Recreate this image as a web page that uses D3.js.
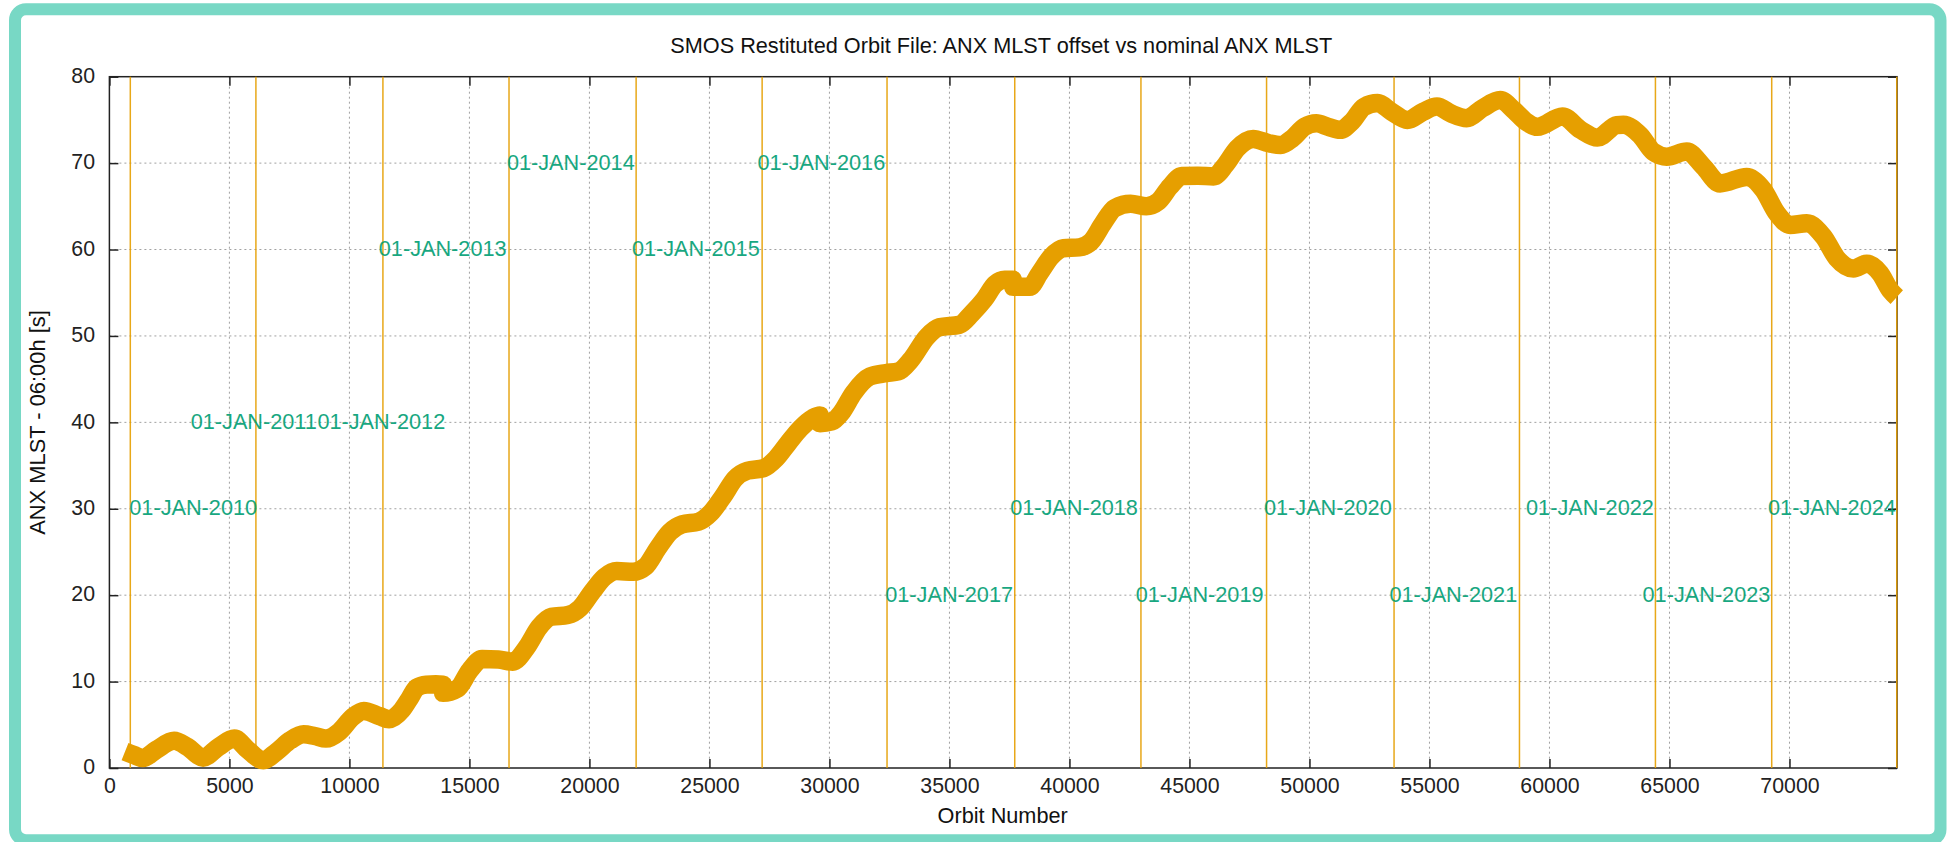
<!DOCTYPE html>
<html><head><meta charset="utf-8">
<script src="https://cdn.jsdelivr.net/npm/d3@7"></script>
<style>
body{margin:0;background:#fff;}
svg{display:block;}
text{font-family:"Liberation Sans",Arial,Helvetica,sans-serif;}
</style>
</head><body>
<svg id="chart" width="1947" height="842"></svg>
<script>
// ---------- data ----------
const orbits = [650,1021,1396,1952,2696,3254,3904,4556,5208,5767,6417,6975,7533,8092,8550,9021,9579,10138,10600,11254,11650,12183,12500,12804,13204,13600,13890,13900,14508,15017,15525,16208,16804,17396,17908,18417,19100,19608,20117,20629,21138,21817,22329,22842,23350,23858,24542,25050,25563,26071,26579,27263,27771,28283,28792,29304,29600,29610,30100,30492,31004,31683,32363,32875,33383,34063,34575,35425,35933,36446,36900,37300,37640,37660,38346,38754,39250,39746,40404,40896,41392,41888,42546,43204,43700,44192,44688,45346,46004,46500,46992,47654,48313,48804,49300,49796,50288,50783,51275,51771,52267,52842,53421,54079,54738,55313,55892,56550,57208,57950,58525,59021,59500,60540,61300,62000,62808,63079,63775,64329,64888,65721,66413,67108,68221,68913,69471,70025,70721,71413,71971,72663,73221,73775,74192,74470];
const offsets = [1.9,1.5,1.15,2.1,3.15,2.45,1.2,2.45,3.4,2.1,0.9,1.9,3.2,3.9,3.7,3.4,4.2,5.9,6.6,6.0,5.65,6.7,8.0,9.3,9.65,9.7,9.65,8.7,9.2,11.3,12.6,12.55,12.3,14.0,16.3,17.5,17.7,18.5,20.4,22.1,22.8,22.7,23.3,25.4,27.3,28.2,28.5,29.5,31.4,33.5,34.4,34.7,35.8,37.6,39.3,40.5,40.8,39.9,40.1,41.1,43.4,45.3,45.7,45.9,47.2,49.9,51.0,51.3,52.6,54.2,56.0,56.5,56.5,55.7,55.7,57.25,59.2,60.15,60.25,60.9,63.0,64.8,65.3,65.0,65.55,67.3,68.5,68.55,68.45,69.8,71.7,72.8,72.3,72.1,72.9,74.2,74.6,74.2,73.85,74.8,76.5,76.95,75.95,75.0,75.95,76.55,75.75,75.2,76.35,77.3,76.1,74.8,74.2,75.4,73.85,72.95,74.4,74.45,73.25,71.3,70.75,71.35,69.6,67.65,68.4,66.9,64.2,62.85,63.05,61.5,59.0,57.8,58.35,57.25,55.3,54.5];

const yearLineOrbits = [871,6104,11396,16650,21946,27196,32400,37721,42979,48213,53525,58750,64415,69260,74470];

const labelTexts  = ["01-JAN-2010","01-JAN-2011","01-JAN-2012","01-JAN-2013","01-JAN-2014","01-JAN-2015","01-JAN-2016","01-JAN-2017","01-JAN-2018","01-JAN-2019","01-JAN-2020","01-JAN-2021","01-JAN-2022","01-JAN-2023","01-JAN-2024"];
const labelOrbits = [829,3388,8667,11225,16563,21771,27000,32325,37529,42763,48104,53333,59025,63879,69108];
const labelValues = [30,40,40,60,70,60,70,20,30,20,30,20,30,20,30];

const xTickValues = [0,5000,10000,15000,20000,25000,30000,35000,40000,45000,50000,55000,60000,65000,70000];
const yTickValues = [0,10,20,30,40,50,60,70,80];

const titleText = "SMOS Restituted Orbit File: ANX MLST offset vs nominal ANX MLST";
const xLabelText = "Orbit Number";
const yLabelText = "ANX MLST - 06:00h [s]";

// ---------- layout ----------
const plot = {left:109.4, right:1897, top:76.7, bottom:768};
const ORANGE = "#e69f00", GREEN = "#009e73";

const svg = d3.select("#chart");

// outer teal frame
svg.append("rect").attr("x",15).attr("y",9.2).attr("width",1925.5).attr("height",831)
  .attr("rx",11).attr("ry",11)
  .attr("fill","#fff").attr("stroke","#78d8c5").attr("stroke-width",12);

const x = d3.scaleLinear().domain([0,74480]).range([plot.left, plot.right]);
const y = d3.scaleLinear().domain([0,80]).range([plot.bottom, plot.top]);

// grid
const grid = svg.append("g").attr("stroke","#a0a0a0").attr("stroke-width",1)
  .attr("stroke-dasharray","2,3").attr("fill","none");
grid.selectAll("line.gx").data(xTickValues.filter(d=>d>0)).join("line")
  .attr("x1",d=>x(d)).attr("x2",d=>x(d)).attr("y1",plot.top).attr("y2",plot.bottom);
grid.selectAll("line.gy").data(yTickValues.filter(d=>d>0 && d<80)).join("line")
  .attr("y1",d=>y(d)).attr("y2",d=>y(d)).attr("x1",plot.left).attr("x2",plot.right);

// axes (ticks inward, mirrored)
const fs = 21.3;
const gB = svg.append("g").attr("transform",`translate(0,${plot.bottom})`)
  .call(d3.axisBottom(x).tickValues(xTickValues).tickFormat(d3.format("d")).tickSizeInner(-9).tickSizeOuter(0).tickPadding(10));
const gT = svg.append("g").attr("transform",`translate(0,${plot.top})`)
  .call(d3.axisTop(x).tickValues(xTickValues).tickFormat("").tickSizeInner(-9).tickSizeOuter(0));
const gL = svg.append("g").attr("transform",`translate(${plot.left},0)`)
  .call(d3.axisLeft(y).tickValues(yTickValues).tickFormat(d3.format("d")).tickSizeInner(-9).tickSizeOuter(0).tickPadding(14.4));
const gR = svg.append("g").attr("transform",`translate(${plot.right},0)`)
  .call(d3.axisRight(y).tickValues(yTickValues).tickFormat("").tickSizeInner(-9).tickSizeOuter(0));
[gB,gT,gL,gR].forEach(g=>{
  g.select(".domain").remove();
  g.selectAll(".tick line").attr("stroke","#222").attr("stroke-width",1.5);
  g.selectAll("text").attr("font-size",fs).attr("fill","#222")
   .attr("font-family",'"Liberation Sans",Arial,sans-serif');
});
gL.selectAll("text").attr("dy","0.27em");

// plot frame
svg.append("rect").attr("x",plot.left).attr("y",plot.top)
  .attr("width",plot.right-plot.left).attr("height",plot.bottom-plot.top)
  .attr("fill","none").attr("stroke","#222").attr("stroke-width",1.5);

// year lines
svg.append("g").selectAll("line").data(yearLineOrbits).join("line")
  .attr("x1",d=>x(d)).attr("x2",d=>x(d)).attr("y1",plot.top).attr("y2",plot.bottom)
  .attr("stroke",ORANGE).attr("stroke-width",1.5).attr("opacity",0.9);

// labels
svg.append("g").selectAll("text").data(labelTexts).join("text")
  .attr("x",(d,i)=>x(labelOrbits[i])).attr("y",(d,i)=>y(labelValues[i]))
  .attr("dy","0.3em").attr("font-size",21.7).attr("fill",GREEN).attr("opacity",0.9)
  .text(d=>d);

// curve
const pts = orbits.map((o,i)=>[o,offsets[i]]);
const line = d3.line().x(d=>x(d[0])).y(d=>y(d[1])).curve(d3.curveMonotoneX);
svg.append("path").datum(pts).attr("d",line)
  .attr("fill","none").attr("stroke",ORANGE).attr("stroke-width",18.5)
  .attr("stroke-linejoin","round").attr("stroke-linecap","butt");

// titles
svg.append("text").attr("x",1001.3).attr("y",53).attr("text-anchor","middle")
  .attr("font-size",21.7).attr("fill","#111").text(titleText);
svg.append("text").attr("x",1002.7).attr("y",823).attr("text-anchor","middle")
  .attr("font-size",21.7).attr("fill","#111").text(xLabelText);
svg.append("text").attr("transform","translate(44.5,422.5) rotate(-90)").attr("text-anchor","middle")
  .attr("font-size",21.9).attr("fill","#111").text(yLabelText);
</script>
</body></html>
